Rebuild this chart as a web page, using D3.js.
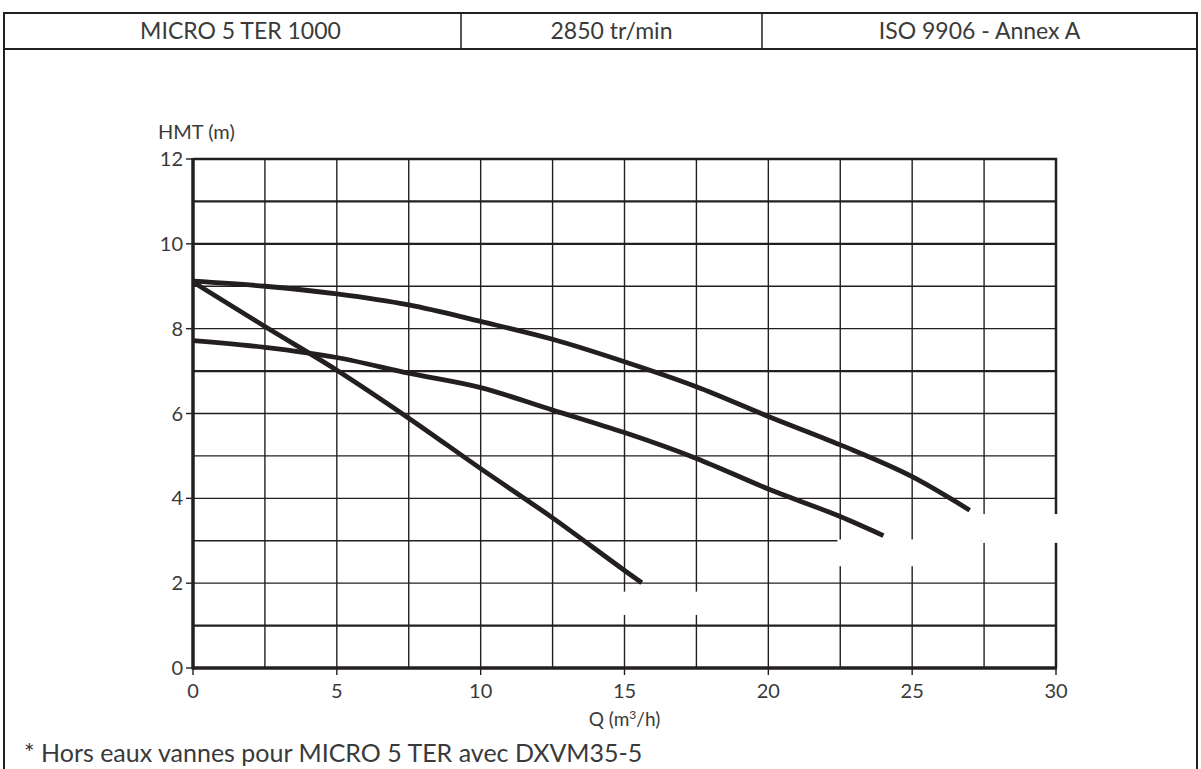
<!DOCTYPE html>
<html>
<head>
<meta charset="utf-8">
<script src="https://cdnjs.cloudflare.com/ajax/libs/d3/7.8.5/d3.min.js"></script>
<style>
  body { margin: 0; background: #fff; }
  text { font-family: Lato, "Noto Sans", sans-serif; fill: #3a3a3a; }
</style>
</head>
<body>
<svg id="chart" width="1201" height="769"></svg>
<script>
// header cells
var headerTexts = ["MICRO 5 TER 1000", "2850 tr/min", "ISO 9906 - Annex A"];

// pump curves, Q (m3/h) vs HMT (m)
var curveA_q = [0, 2.5, 5, 7.5, 10, 12.5, 15, 15.6];
var curveA_h = [9.1, 8.05, 7.02, 5.89, 4.7, 3.54, 2.3, 2.01];
var curveB_q = [0, 2.5, 5, 7.5, 10, 12.5, 15, 17.5, 20, 22.5, 24];
var curveB_h = [7.72, 7.56, 7.32, 6.95, 6.61, 6.08, 5.55, 4.94, 4.22, 3.57, 3.12];
var curveC_q = [0, 2.5, 5, 7.5, 10, 12.5, 15, 17.5, 20, 22.5, 25, 27];
var curveC_h = [9.12, 9.0, 8.82, 8.56, 8.17, 7.75, 7.22, 6.63, 5.93, 5.26, 4.51, 3.72];

var xTicks = [0, 5, 10, 15, 20, 25, 30];
var yTicks = [0, 2, 4, 6, 8, 10, 12];
var xGrid = d3.range(2.5, 30, 2.5);
var yGrid = d3.range(1, 12, 1);
var yGridBold = [1, 7, 10, 11];

// blank patches in the original sheet (data units: q0, q1, h0, h1)
var masks = [[14.75, 17.8, 1.25, 1.8], [22.4, 27.4, 2.4, 3.03], [27.4, 30.1, 2.95, 3.63]];

var INK = '#231f20';
var svg = d3.select('#chart');

var x = d3.scaleLinear().domain([0, 30]).range([193, 1056]);
var y = d3.scaleLinear().domain([0, 12]).range([668, 159]);

// outer frame + header
var cells = [4, 461, 762, 1197];
svg.append('path')
  .attr('d', 'M4,769 V13 H1197 V769')
  .attr('fill', 'none').attr('stroke', INK).attr('stroke-width', 2);
svg.append('line')
  .attr('x1', 4).attr('x2', 1197).attr('y1', 49).attr('y2', 49)
  .attr('stroke', INK).attr('stroke-width', 2);
svg.selectAll('.hdiv')
  .data(cells.slice(1, 3))
  .enter().append('line')
  .attr('class', 'hdiv')
  .attr('x1', d => d).attr('x2', d => d)
  .attr('y1', 13).attr('y2', 49)
  .attr('stroke', INK).attr('stroke-width', 1.5);
svg.selectAll('.htext')
  .data(headerTexts)
  .enter().append('text')
  .attr('class', 'htext')
  .attr('x', (d, i) => (cells[i] + cells[i + 1]) / 2 + (i == 0 ? 8 : 0))
  .attr('y', 39)
  .attr('text-anchor', 'middle')
  .style('font-size', '23px')
  .text(d => d);

// grid
svg.selectAll('.vgrid')
  .data(xGrid)
  .enter().append('line')
  .attr('class', 'vgrid')
  .attr('x1', d => x(d)).attr('x2', d => x(d))
  .attr('y1', y(12)).attr('y2', y(0))
  .attr('stroke', INK).attr('stroke-width', 1.4);
svg.selectAll('.hgrid')
  .data(yGrid)
  .enter().append('line')
  .attr('class', 'hgrid')
  .attr('x1', x(0)).attr('x2', x(30))
  .attr('y1', d => y(d)).attr('y2', d => y(d))
  .attr('stroke', INK)
  .attr('stroke-width', d => yGridBold.includes(d) ? 2.4 : 1.4);

// top and right border of the plot
svg.append('path')
  .attr('d', 'M' + x(0) + ',' + y(12) + 'H' + x(30) + 'V' + y(0))
  .attr('fill', 'none').attr('stroke', INK).attr('stroke-width', 2.5);

// blank patches
svg.selectAll('.mask')
  .data(masks)
  .enter().append('rect')
  .attr('class', 'mask')
  .attr('x', d => x(d[0]))
  .attr('width', d => x(d[1]) - x(d[0]))
  .attr('y', d => y(d[3]))
  .attr('height', d => y(d[2]) - y(d[3]))
  .attr('fill', '#fff');

// axes
svg.append('line')
  .attr('x1', x(0)).attr('x2', x(0)).attr('y1', y(12) - 1).attr('y2', y(0) + 1.5)
  .attr('stroke', INK).attr('stroke-width', 3.5);
svg.append('line')
  .attr('x1', x(0)).attr('x2', x(30) + 1).attr('y1', y(0)).attr('y2', y(0))
  .attr('stroke', INK).attr('stroke-width', 3.5);

svg.selectAll('.ytick')
  .data(yTicks)
  .enter().append('line')
  .attr('class', 'ytick')
  .attr('x1', x(0) - 7).attr('x2', x(0))
  .attr('y1', d => y(d)).attr('y2', d => y(d))
  .attr('stroke', INK).attr('stroke-width', 1.4);
svg.selectAll('.ylab')
  .data(yTicks)
  .enter().append('text')
  .attr('class', 'ylab')
  .attr('x', x(0) - 10)
  .attr('y', d => y(d) + 7)
  .attr('text-anchor', 'end')
  .style('font-size', '20px')
  .text(d => d);

svg.selectAll('.xtick')
  .data(xTicks)
  .enter().append('line')
  .attr('class', 'xtick')
  .attr('x1', d => x(d)).attr('x2', d => x(d))
  .attr('y1', y(0)).attr('y2', y(0) + 7)
  .attr('stroke', INK).attr('stroke-width', 1.4);
svg.selectAll('.xlab')
  .data(xTicks)
  .enter().append('text')
  .attr('class', 'xlab')
  .attr('x', d => x(d))
  .attr('y', y(0) + 30)
  .attr('text-anchor', 'middle')
  .style('font-size', '20px')
  .text(d => d);

svg.append('text')
  .attr('x', 158).attr('y', 139)
  .style('font-size', '20px')
  .text('HMT (m)');

var xt = svg.append('text')
  .attr('x', x(15)).attr('y', 726)
  .attr('text-anchor', 'middle')
  .style('font-size', '19px');
xt.append('tspan').text('Q (m');
xt.append('tspan').attr('dy', -7).style('font-size', '12px').text('3');
xt.append('tspan').attr('dy', 7).text('/h)');

// curves
var line = d3.line()
  .x(d => x(d[0]))
  .y(d => y(d[1]))
  .curve(d3.curveMonotoneX);

[[curveA_q, curveA_h], [curveB_q, curveB_h], [curveC_q, curveC_h]].forEach(function(c){
  var pts = c[0].map((q, i) => [q, c[1][i]]);
  svg.append('path')
    .datum(pts)
    .attr('d', line)
    .attr('fill', 'none')
    .attr('stroke', INK)
    .attr('stroke-width', 4.8);
});

// footnote
svg.append('text')
  .attr('x', 24).attr('y', 762)
  .style('font-size', '25px')
  .text('* Hors eaux vannes pour MICRO 5 TER avec DXVM35-5');
</script>
</body>
</html>
